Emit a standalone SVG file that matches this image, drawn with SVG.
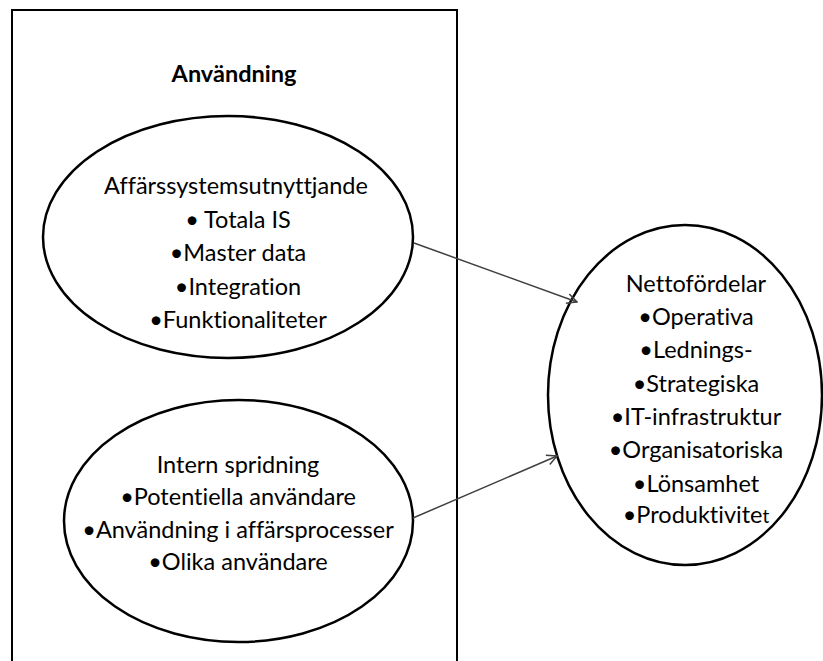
<svg xmlns="http://www.w3.org/2000/svg" width="823" height="661" viewBox="0 0 823 661">
  <style>
    .frame { fill: none; stroke: #000; stroke-width: 2; }
    .oval { fill: #fff; stroke: #000; stroke-width: 2.5; }
    .lbl { font-family: Lato, "Open Sans", "Liberation Sans", sans-serif; font-size: 23.5px; fill: #000; text-anchor: middle; font-variant-ligatures: none; font-feature-settings: "liga" 0, "dlig" 0; }
    .title { font-weight: bold; }
    .link { fill: none; stroke: #404040; stroke-width: 1.5; }
  </style>
  <defs>
    <marker id="open-arrow" viewBox="0 0 12 12" refX="11" refY="6" markerWidth="12" markerHeight="12" markerUnits="userSpaceOnUse" orient="auto">
      <path d="M1,1 L11,6 L1,11" fill="none" stroke="#404040" stroke-width="1.5"/>
    </marker>
  </defs>

  <rect width="823" height="661" fill="#fff"/>

  <!-- usage frame, open at the bottom edge -->
  <g id="anvandning">
    <path class="frame" d="M12,670 L12,10 L457,10 L457,670"/>
    <text class="lbl title" x="234" y="82">Användning</text>
  </g>

  <g id="affarssystem">
    <ellipse class="oval" cx="228" cy="237" rx="185" ry="121"/>
    <text class="lbl" x="236" y="194">Affärssystemsutnyttjande</text>
    <text class="lbl" x="238" y="228">• Totala IS</text>
    <text class="lbl" x="238" y="261">•Master data</text>
    <text class="lbl" x="238" y="295">•Integration</text>
    <text class="lbl" x="238" y="328">•Funktionaliteter</text>
  </g>

  <g id="intern-spridning">
    <ellipse class="oval" cx="238.5" cy="521" rx="174.5" ry="121"/>
    <text class="lbl" x="238" y="473">Intern spridning</text>
    <text class="lbl" x="238" y="505">•Potentiella användare</text>
    <text class="lbl" x="238" y="538">•Användning i affärsprocesser</text>
    <text class="lbl" x="238" y="570">•Olika användare</text>
  </g>

  <g id="nettofordelar">
    <ellipse class="oval" cx="685" cy="395" rx="137" ry="170"/>
    <text class="lbl" x="696" y="292">Nettofördelar</text>
    <text class="lbl" x="696" y="325">•Operativa</text>
    <text class="lbl" x="696" y="358">•Lednings-</text>
    <text class="lbl" x="696" y="392">•Strategiska</text>
    <text class="lbl" x="696" y="425">•IT-infrastruktur</text>
    <text class="lbl" x="696" y="458">•Organisatoriska</text>
    <text class="lbl" x="696" y="492">•Lönsamhet</text>
    <text class="lbl" x="696" y="523">•Produktivite<tspan font-size="19">t</tspan></text>
  </g>

  <g id="connectors">
    <line class="link" x1="414" y1="243" x2="577" y2="302" marker-end="url(#open-arrow)"/>
    <line class="link" x1="413" y1="518" x2="557" y2="456" marker-end="url(#open-arrow)"/>
  </g>
</svg>
